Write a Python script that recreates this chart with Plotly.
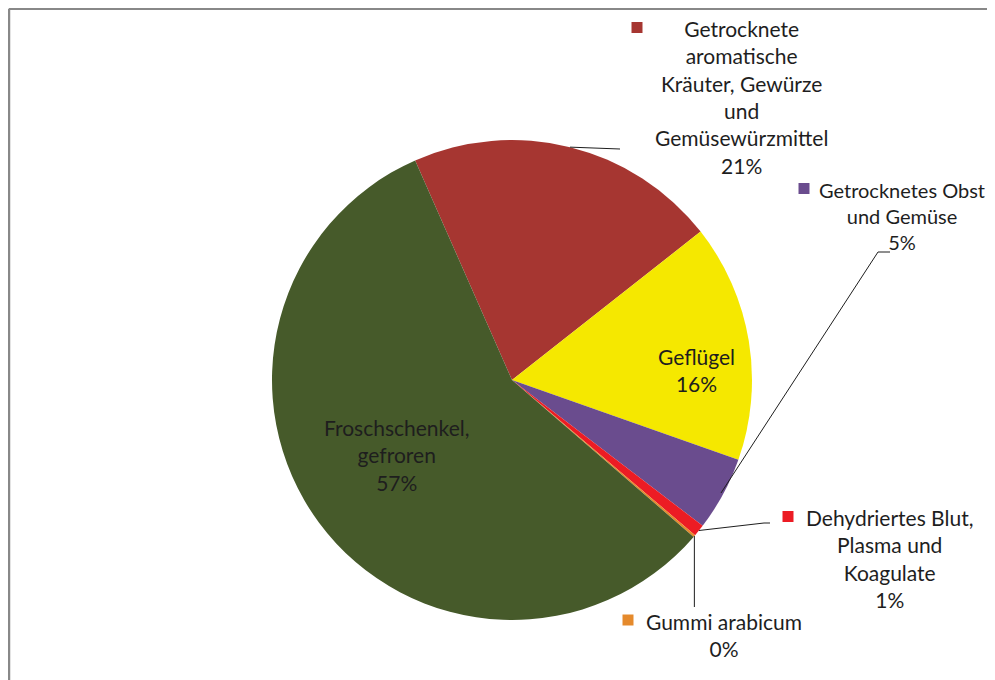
import math
import plotly.graph_objects as go

# ---- data ----
labels = [
    "Getrocknete aromatische Kräuter, Gewürze und Gemüsewürzmittel",
    "Geflügel",
    "Getrocknetes Obst und Gemüse",
    "Dehydriertes Blut, Plasma und Koagulate",
    "Gummi arabicum",
    "Froschschenkel, gefroren",
]
values = [21.0, 16.0, 5.0, 0.8, 0.15, 57.05]
label_lines = [
    ["Getrocknete", "aromatische", "Kräuter, Gewürze", "und", "Gemüsewürzmittel"],
    ["Geflügel"],
    ["Getrocknetes Obst", "und Gemüse"],
    ["Dehydriertes Blut,", "Plasma und", "Koagulate"],
    ["Gummi arabicum"],
    ["Froschschenkel,", "gefroren"],
]
colors = ["#A63631", "#F5E800", "#6A4C8E", "#EC1C24", "#E58A2C", "#465A2A"]

# ---- layout constants (page pixels; the page body has an 8px margin) ----
OFF = 8
W, H = 995 - OFF, 680 - OFF
CX, CY, R = 512, 380, 240
ROT = -23.8
FONT = "Lato"
FS = 21
TXT = "#1e1e1e"


def px(x):
    return (x - OFF) / W


def py(y):
    return 1 - (y - OFF) / H


total = sum(values)
pcts = [v / total for v in values]
# mid angles (clockwise from 12 o'clock)
mids = []
acc = ROT
for v in values:
    a = v / total * 360
    mids.append(acc + a / 2)
    acc += a


def edge(i, rr=1.0):
    a = math.radians(mids[i])
    return CX + R * rr * math.sin(a), CY - R * rr * math.cos(a)


fig = go.Figure(
    go.Pie(
        labels=labels,
        values=values,
        sort=False,
        direction="clockwise",
        rotation=ROT,
        marker=dict(colors=colors, line=dict(width=0)),
        textinfo="none",
        hoverinfo="label+percent",
        showlegend=False,
        domain=dict(x=[px(CX - R), px(CX + R)], y=[py(CY + R), py(CY - R)]),
    )
)

# label blocks: (index, center x, center y, font size)
blocks = [
    (0, 741, 97, FS),
    (1, 696, 369.5, FS),
    (2, 902, 216, 20),
    (3, 889, 558, FS),
    (4, 724, 635, FS),
    (5, 396, 454.5, FS),
]
annotations = []
for i, bx, by, fs in blocks:
    txt = "<br>".join(label_lines[i] + [f"{round(pcts[i]*100):d}%"])
    annotations.append(
        dict(
            x=px(bx), y=py(by), xref="paper", yref="paper",
            text=txt, showarrow=False, align="center",
            xanchor="center", yanchor="middle",
            font=dict(family=FONT, size=fs, color=TXT),
        )
    )

shapes = []
# chart border (top + left)
shapes.append(dict(type="line", xref="paper", yref="paper", x0=0.001, y0=0.999, x1=1.05, y1=0.999,
                   line=dict(color="#888888", width=2.5)))
shapes.append(dict(type="line", xref="paper", yref="paper", x0=0.001, y0=0.999, x1=0.001, y1=-0.05,
                   line=dict(color="#888888", width=2.5)))

# legend keys
keys = [(0, 637, 27.5), (2, 804, 188.5), (3, 788, 516.5), (4, 628, 620)]
for i, kx, ky in keys:
    s = 5.5
    shapes.append(dict(type="rect", xref="paper", yref="paper",
                       x0=px(kx - s), x1=px(kx + s), y0=py(ky + s), y1=py(ky - s),
                       fillcolor=colors[i], line=dict(width=0)))

# leader lines
def leader(points):
    d = "M " + " L ".join(f"{px(x)},{py(y)}" for x, y in points)
    return dict(type="path", xref="paper", yref="paper", path=d,
                line=dict(color="#1e1e1e", width=1))

sx, sy = edge(0)
shapes.append(leader([(sx, sy), (620, 149)]))
sx, sy = edge(2, 0.99)
shapes.append(leader([(sx, sy), (878, 252), (890, 252)]))
sx, sy = edge(3)
shapes.append(leader([(sx, sy), (764, 523), (770, 523)]))
sx, sy = edge(4)
shapes.append(leader([(sx, sy), (sx, 607)]))

fig.update_layout(
    width=W, height=H,
    margin=dict(l=0, r=0, t=0, b=0),
    paper_bgcolor="white",
    plot_bgcolor="white",
    annotations=annotations,
    shapes=shapes,
)

fig.write_html("out.html")
